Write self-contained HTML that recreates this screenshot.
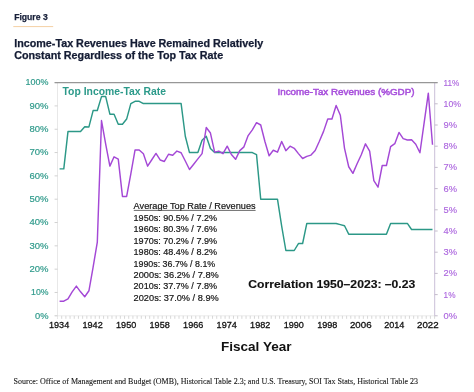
<!DOCTYPE html>
<html><head><meta charset="utf-8">
<style>
html,body{margin:0;padding:0;background:#fff;}
body{width:474px;height:392px;overflow:hidden;position:relative;}
svg{position:absolute;left:0;top:0;will-change:transform;}
text{font-family:"Liberation Sans",sans-serif;}
.lt{font-size:9.6px;fill:#2f9a8b;stroke:#2f9a8b;stroke-width:0.2px;}
.rt{font-size:9.6px;fill:#ac66de;stroke:#ac66de;stroke-width:0.15px;}
.xt{font-size:9.4px;fill:#111;stroke:#111;stroke-width:0.3px;}
</style></head><body>
<svg width="474" height="392" viewBox="0 0 474 392">
<text x="14.2" y="20.3" textLength="33.5" lengthAdjust="spacingAndGlyphs" style="font-weight:bold;font-size:9px;fill:#18203a;stroke:#18203a;stroke-width:0.25px">Figure 3</text>
<line x1="13.3" y1="26.6" x2="53.2" y2="26.6" stroke="#f4d0a4" stroke-width="1"/>
<text x="14.2" y="46.5" textLength="249" lengthAdjust="spacingAndGlyphs" style="font-weight:bold;font-size:10.5px;fill:#141c34;stroke:#141c34;stroke-width:0.25px">Income-Tax Revenues Have Remained Relatively</text>
<text x="14.2" y="58.7" textLength="209" lengthAdjust="spacingAndGlyphs" style="font-weight:bold;font-size:10.5px;fill:#141c34;stroke:#141c34;stroke-width:0.25px">Constant Regardless of the Top Tax Rate</text>
<line x1="54.6" y1="315.8" x2="434.7" y2="315.8" stroke="#ebebeb" stroke-width="1"/>
<path d="M57.50 315.8v3M61.69 315.8v3M65.88 315.8v3M70.07 315.8v3M74.26 315.8v3M78.45 315.8v3M82.64 315.8v3M86.83 315.8v3M91.02 315.8v3M95.21 315.8v3M99.40 315.8v3M103.59 315.8v3M107.78 315.8v3M111.97 315.8v3M116.16 315.8v3M120.35 315.8v3M124.54 315.8v3M128.73 315.8v3M132.92 315.8v3M137.11 315.8v3M141.30 315.8v3M145.49 315.8v3M149.68 315.8v3M153.87 315.8v3M158.06 315.8v3M162.25 315.8v3M166.44 315.8v3M170.63 315.8v3M174.82 315.8v3M179.01 315.8v3M183.20 315.8v3M187.39 315.8v3M191.58 315.8v3M195.77 315.8v3M199.96 315.8v3M204.15 315.8v3M208.34 315.8v3M212.53 315.8v3M216.72 315.8v3M220.91 315.8v3M225.10 315.8v3M229.29 315.8v3M233.48 315.8v3M237.67 315.8v3M241.86 315.8v3M246.05 315.8v3M250.24 315.8v3M254.43 315.8v3M258.62 315.8v3M262.81 315.8v3M267.00 315.8v3M271.19 315.8v3M275.38 315.8v3M279.57 315.8v3M283.76 315.8v3M287.95 315.8v3M292.14 315.8v3M296.33 315.8v3M300.52 315.8v3M304.71 315.8v3M308.90 315.8v3M313.09 315.8v3M317.28 315.8v3M321.47 315.8v3M325.66 315.8v3M329.85 315.8v3M334.04 315.8v3M338.23 315.8v3M342.42 315.8v3M346.61 315.8v3M350.80 315.8v3M354.99 315.8v3M359.18 315.8v3M363.37 315.8v3M367.56 315.8v3M371.75 315.8v3M375.94 315.8v3M380.13 315.8v3M384.32 315.8v3M388.51 315.8v3M392.70 315.8v3M396.89 315.8v3M401.08 315.8v3M405.27 315.8v3M409.46 315.8v3M413.65 315.8v3M417.84 315.8v3M422.03 315.8v3M426.22 315.8v3M430.41 315.8v3M434.60 315.8v3" stroke="#d2d2d2" stroke-width="0.9" fill="none"/>
<line x1="57.5" y1="82.60000000000002" x2="57.5" y2="318.8" stroke="#e8e8e8" stroke-width="1"/>
<path d="M54.6 315.80h3M54.6 292.48h3M54.6 269.16h3M54.6 245.84h3M54.6 222.52h3M54.6 199.20h3M54.6 175.88h3M54.6 152.56h3M54.6 129.24h3M54.6 105.92h3M54.6 82.60h3" stroke="#cccccc" stroke-width="0.9" fill="none"/>
<line x1="434.7" y1="82.60000000000002" x2="434.7" y2="315.8" stroke="#cbbfd8" stroke-width="1"/>
<path d="M434.7 315.80h3M434.7 294.60h3M434.7 273.40h3M434.7 252.20h3M434.7 231.00h3M434.7 209.80h3M434.7 188.60h3M434.7 167.40h3M434.7 146.20h3M434.7 125.00h3M434.7 103.80h3M434.7 82.60h3" stroke="#bdb5c5" stroke-width="0.9" fill="none"/>
<line x1="54.6" y1="82.60000000000002" x2="437.6" y2="82.60000000000002" stroke="#979797" stroke-width="1.35"/>
<polyline points="59.60,168.88 63.79,168.88 67.98,131.57 72.17,131.57 76.36,131.57 80.55,131.57 84.74,126.67 88.93,126.91 93.12,110.58 97.31,110.58 101.50,96.59 105.69,96.59 109.88,114.20 114.07,114.20 118.26,124.27 122.45,124.27 126.64,119.07 130.83,103.59 135.02,101.26 139.21,101.26 143.40,103.59 147.59,103.59 151.78,103.59 155.97,103.59 160.16,103.59 164.35,103.59 168.54,103.59 172.73,103.59 176.92,103.59 181.11,103.59 185.30,136.24 189.49,152.56 193.68,152.56 197.87,152.56 202.06,140.32 206.25,136.24 210.44,148.48 214.63,152.56 218.82,152.56 223.01,152.56 227.20,152.56 231.39,152.56 235.58,152.56 239.77,152.56 243.96,152.56 248.15,152.56 252.34,152.56 256.53,154.60 260.72,199.20 264.91,199.20 269.10,199.20 273.29,199.20 277.48,199.20 281.67,226.02 285.86,250.50 290.05,250.50 294.24,250.50 298.43,243.51 302.62,243.51 306.81,223.45 311.00,223.45 315.19,223.45 319.38,223.45 323.57,223.45 327.76,223.45 331.95,223.45 336.14,223.45 340.33,224.62 344.52,225.78 348.71,234.18 352.90,234.18 357.09,234.18 361.28,234.18 365.47,234.18 369.66,234.18 373.85,234.18 378.04,234.18 382.23,234.18 386.42,234.18 390.61,223.45 394.80,223.45 398.99,223.45 403.18,223.45 407.37,223.45 411.56,229.52 415.75,229.52 419.94,229.52 424.13,229.52 428.32,229.52 432.51,229.52" fill="none" stroke="#2c9887" stroke-width="1.45" stroke-linejoin="round"/>
<polyline points="59.60,301.17 63.79,301.17 67.98,298.84 72.17,291.84 76.36,286.12 80.55,291.84 84.74,296.72 88.93,290.78 93.12,267.04 97.31,242.24 101.50,120.55 105.69,144.08 109.88,166.13 114.07,156.80 118.26,159.13 122.45,196.44 126.64,196.44 130.83,173.76 135.02,150.02 139.21,150.02 143.40,153.83 147.59,166.13 151.78,159.77 155.97,153.41 160.16,159.98 164.35,161.46 168.54,154.26 172.73,155.32 176.92,151.08 181.11,152.77 185.30,161.04 189.49,169.52 193.68,164.22 197.87,158.92 202.06,153.62 206.25,127.54 210.44,133.06 214.63,152.14 218.82,151.08 223.01,153.62 227.20,146.20 231.39,154.47 235.58,159.34 239.77,150.65 243.96,146.84 248.15,135.60 252.34,129.88 256.53,122.67 260.72,125.00 264.91,141.54 269.10,155.74 273.29,150.23 277.48,152.14 281.67,141.54 285.86,150.65 290.05,146.20 294.24,148.32 298.43,153.62 302.62,158.50 306.81,156.38 311.00,155.10 315.19,150.44 319.38,141.32 323.57,131.36 327.76,119.06 331.95,119.06 336.14,105.50 340.33,115.25 344.52,148.32 348.71,166.76 352.90,173.34 357.09,163.80 361.28,154.68 365.47,143.87 369.66,151.08 373.85,180.54 378.04,187.12 382.23,165.49 386.42,165.49 390.61,146.62 394.80,143.66 398.99,132.42 403.18,138.57 407.37,140.05 411.56,139.84 415.75,144.29 419.94,152.77 424.13,122.88 428.32,93.20 432.51,144.72" fill="none" stroke="#a448d6" stroke-width="1.45" stroke-linejoin="round"/>
<text x="35.00" y="318.60" textLength="13.50" lengthAdjust="spacingAndGlyphs" class="lt">0%</text>
<text x="31.10" y="295.28" textLength="17.40" lengthAdjust="spacingAndGlyphs" class="lt">10%</text>
<text x="29.50" y="271.96" textLength="19.00" lengthAdjust="spacingAndGlyphs" class="lt">20%</text>
<text x="29.50" y="248.64" textLength="19.00" lengthAdjust="spacingAndGlyphs" class="lt">30%</text>
<text x="29.50" y="225.32" textLength="19.00" lengthAdjust="spacingAndGlyphs" class="lt">40%</text>
<text x="29.50" y="202.00" textLength="19.00" lengthAdjust="spacingAndGlyphs" class="lt">50%</text>
<text x="29.50" y="178.68" textLength="19.00" lengthAdjust="spacingAndGlyphs" class="lt">60%</text>
<text x="29.50" y="155.36" textLength="19.00" lengthAdjust="spacingAndGlyphs" class="lt">70%</text>
<text x="29.50" y="132.04" textLength="19.00" lengthAdjust="spacingAndGlyphs" class="lt">80%</text>
<text x="29.50" y="108.72" textLength="19.00" lengthAdjust="spacingAndGlyphs" class="lt">90%</text>
<text x="25.60" y="85.40" textLength="22.90" lengthAdjust="spacingAndGlyphs" class="lt">100%</text>
<text x="443.6" y="318.70" textLength="13.50" lengthAdjust="spacingAndGlyphs" class="rt">0%</text>
<text x="443.6" y="297.50" textLength="11.90" lengthAdjust="spacingAndGlyphs" class="rt">1%</text>
<text x="443.6" y="276.30" textLength="13.50" lengthAdjust="spacingAndGlyphs" class="rt">2%</text>
<text x="443.6" y="255.10" textLength="13.50" lengthAdjust="spacingAndGlyphs" class="rt">3%</text>
<text x="443.6" y="233.90" textLength="13.50" lengthAdjust="spacingAndGlyphs" class="rt">4%</text>
<text x="443.6" y="212.70" textLength="13.50" lengthAdjust="spacingAndGlyphs" class="rt">5%</text>
<text x="443.6" y="191.50" textLength="13.50" lengthAdjust="spacingAndGlyphs" class="rt">6%</text>
<text x="443.6" y="170.30" textLength="13.50" lengthAdjust="spacingAndGlyphs" class="rt">7%</text>
<text x="443.6" y="149.10" textLength="13.50" lengthAdjust="spacingAndGlyphs" class="rt">8%</text>
<text x="443.6" y="127.90" textLength="13.50" lengthAdjust="spacingAndGlyphs" class="rt">9%</text>
<text x="443.6" y="106.70" textLength="17.40" lengthAdjust="spacingAndGlyphs" class="rt">10%</text>
<text x="443.6" y="85.50" textLength="15.80" lengthAdjust="spacingAndGlyphs" class="rt">11%</text>
<text x="49.00" y="328.4" textLength="20.20" lengthAdjust="spacingAndGlyphs" class="xt">1934</text>
<text x="82.52" y="328.4" textLength="20.20" lengthAdjust="spacingAndGlyphs" class="xt">1942</text>
<text x="116.04" y="328.4" textLength="20.20" lengthAdjust="spacingAndGlyphs" class="xt">1950</text>
<text x="149.56" y="328.4" textLength="20.20" lengthAdjust="spacingAndGlyphs" class="xt">1958</text>
<text x="183.08" y="328.4" textLength="20.20" lengthAdjust="spacingAndGlyphs" class="xt">1966</text>
<text x="216.60" y="328.4" textLength="20.20" lengthAdjust="spacingAndGlyphs" class="xt">1974</text>
<text x="250.12" y="328.4" textLength="20.20" lengthAdjust="spacingAndGlyphs" class="xt">1982</text>
<text x="283.64" y="328.4" textLength="20.20" lengthAdjust="spacingAndGlyphs" class="xt">1990</text>
<text x="317.16" y="328.4" textLength="20.20" lengthAdjust="spacingAndGlyphs" class="xt">1998</text>
<text x="349.98" y="328.4" textLength="21.60" lengthAdjust="spacingAndGlyphs" class="xt">2006</text>
<text x="384.20" y="328.4" textLength="20.20" lengthAdjust="spacingAndGlyphs" class="xt">2014</text>
<text x="417.02" y="328.4" textLength="21.60" lengthAdjust="spacingAndGlyphs" class="xt">2022</text>
<text x="62.5" y="94.6" textLength="103.5" lengthAdjust="spacingAndGlyphs" style="font-weight:bold;font-size:10px;fill:#2c9a8a">Top Income-Tax Rate</text>
<text x="277.5" y="95.4" textLength="137" lengthAdjust="spacingAndGlyphs" style="font-size:9.4px;fill:#a850dc;stroke:#a850dc;stroke-width:0.5px">Income-Tax Revenues (%GDP)</text>
<g style="font-size:9.4px;fill:#151515;stroke:#151515;stroke-width:0.2px">
<text x="133.6" y="209.2" textLength="122" lengthAdjust="spacingAndGlyphs">Average Top Rate / Revenues</text>
<line x1="133.8" y1="210.4" x2="255.6" y2="210.4" stroke="#444" stroke-width="0.8"/>
<text x="133.6" y="221" textLength="83.4" lengthAdjust="spacingAndGlyphs">1950s: 90.5% / 7.2%</text>
<text x="133.6" y="232.4" textLength="83.4" lengthAdjust="spacingAndGlyphs">1960s: 80.3% / 7.6%</text>
<text x="133.6" y="243.8" textLength="83.4" lengthAdjust="spacingAndGlyphs">1970s: 70.2% / 7.9%</text>
<text x="133.6" y="255.2" textLength="83.4" lengthAdjust="spacingAndGlyphs">1980s: 48.4% / 8.2%</text>
<text x="133.6" y="266.6" textLength="81.6" lengthAdjust="spacingAndGlyphs">1990s: 36.7% / 8.1%</text>
<text x="133.6" y="278" textLength="85.2" lengthAdjust="spacingAndGlyphs">2000s: 36.2% / 7.8%</text>
<text x="133.6" y="289.4" textLength="83.4" lengthAdjust="spacingAndGlyphs">2010s: 37.7% / 7.8%</text>
<text x="133.6" y="300.8" textLength="85.2" lengthAdjust="spacingAndGlyphs">2020s: 37.0% / 8.9%</text>
</g>
<text x="248.3" y="288.2" textLength="167" lengthAdjust="spacingAndGlyphs" style="font-weight:bold;font-size:11.2px;fill:#111;stroke:#111;stroke-width:0.15px">Correlation 1950–2023: –0.23</text>
<text x="221" y="351" textLength="70.5" lengthAdjust="spacingAndGlyphs" style="font-weight:bold;font-size:12.5px;fill:#111">Fiscal Year</text>
<text x="13.6" y="384" textLength="404.5" lengthAdjust="spacingAndGlyphs" style="font-family:'Liberation Serif',serif;font-size:8.9px;fill:#1a1a1a;stroke:#1a1a1a;stroke-width:0.12px">Source: Office of Management and Budget (OMB), Historical Table 2.3; and U.S. Treasury, SOI Tax Stats, Historical Table 23</text>
</svg>
</body></html>
